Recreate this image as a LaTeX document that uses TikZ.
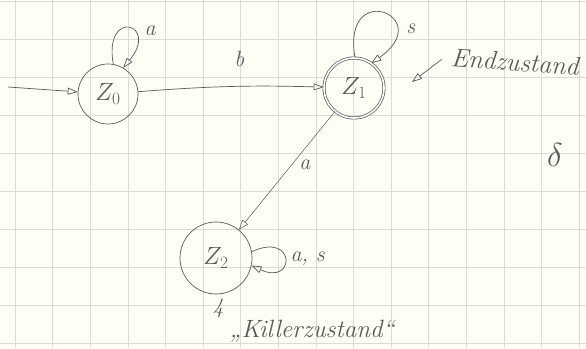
\documentclass[tikz,border=0pt]{standalone}
\usetikzlibrary{arrows.meta,positioning}

\tikzset{
  pencil/.style={draw=gray!70!black, line width=0.7pt},
  gridline/.style={draw=gray!28, line width=0.6pt},
  state/.style={pencil, circle, minimum size=60pt, inner sep=0pt, font=\fontsize{26}{28}\selectfont, text=gray!70!black},
  accept/.style={state, double, double distance=1.6pt},
  lbl/.style={text=gray!70!black, font=\fontsize{22}{24}\selectfont\itshape},
}

\begin{document}
\begin{tikzpicture}[x=1pt, y=1pt, >={Triangle[open, length=10pt, width=7pt]}]
    \fill[white!96!yellow] (0,0) rectangle (586,348);
    \useasboundingbox (0,0) rectangle (586,348);
    % squared paper
    \foreach \i in {0,...,15} \draw[gridline] ({15+37.6*\i},0) -- ++(0,348);
    \foreach \j in {0,...,9} \draw[gridline] (0,{347-38*\j}) -- ++(586,0);

    % states
    \node[state] (z0) at (108,254) {$Z_0$};
    \node[accept] (z1) at (354,260) {$Z_1$};
    \node[state, minimum size=72pt] (z2) at (216,90) {$Z_2$};
    \coordinate (start) at (8,261);

    \draw[pencil, ->] (start) -- (z0);
    \draw[pencil, ->] (z0.80) to[out=100, in=50, looseness=14] node[lbl, pos=0.6, right=8pt] {a} (z0.60);
    \draw[pencil, ->] (z0) to[bend left=3] node[lbl, pos=0.55, above=16pt] {b} (z1);
    \draw[pencil, ->] (z1.88) to[out=100, in=35, looseness=12] node[lbl, pos=0.72, right=8pt] {s} (z1.55);
    \draw[pencil, line width=0.5pt, ->] (z1) -- node[lbl, pos=0.45, right=4pt] {a} (z2);
    \draw[pencil, ->] (z2.10) to[out=25, in=-25, looseness=9] node[lbl, right=2pt] {a, s} (z2.-12);

    % notes
    \node[lbl, font=\fontsize{26}{28}\selectfont\itshape, rotate=-4] (endz) at (515,286) {Endzustand};
    \coordinate (endtip) at (412,266);
    \draw[pencil, ->] ([xshift=-6pt, yshift=-2pt]endz.west) -- (endtip);
    \node[lbl, scale=1.6] (delta) at (555,193) {$\delta$};
    \node[lbl] (four) at (218,40) {4};
    \node[lbl, font=\fontsize{25}{27}\selectfont\itshape] (killer) at (312,17) {„Killerzustand“};
\end{tikzpicture}
\end{document}
